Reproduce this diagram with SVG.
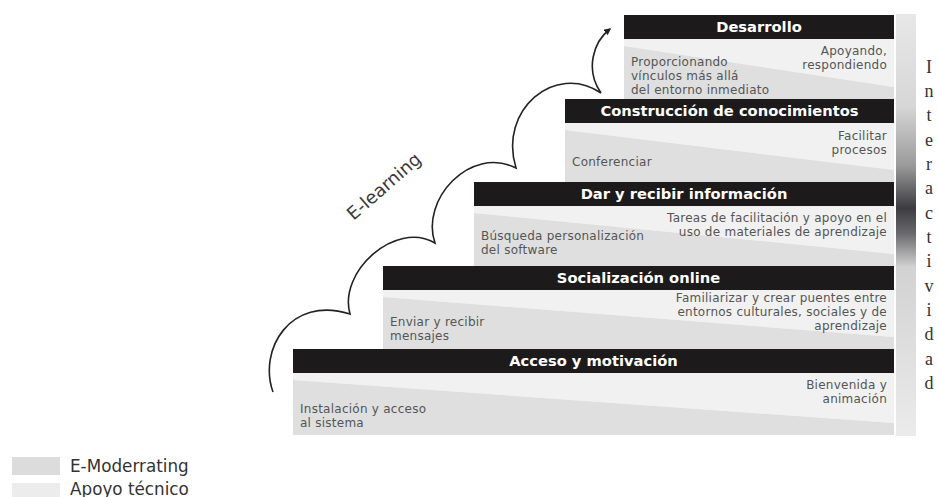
<svg xmlns="http://www.w3.org/2000/svg" width="938" height="497" viewBox="0 0 938 497">
<defs>
<style>
.bar{fill:#1c1a1b}
.bt{font-family:"DejaVu Sans",Verdana,sans-serif;font-weight:bold;font-size:14.7px;fill:#ffffff;text-anchor:middle}
.lt{fill:#f1f1f1}
.dk{fill:#dfdfdf}
.tx{font-family:"DejaVu Sans",Verdana,sans-serif;font-size:12px;letter-spacing:0.25px;fill:#555555}
.r{text-anchor:end}
.leg{font-family:"DejaVu Sans",Verdana,sans-serif;font-size:16.8px;fill:#333333}
.curve{fill:none;stroke:#222222;stroke-width:1.6}
</style>
<linearGradient id="gbar" x1="0" y1="0" x2="0" y2="1">
<stop offset="0" stop-color="#e8e8e8"/>
<stop offset="0.22" stop-color="#d6d6d6"/>
<stop offset="0.36" stop-color="#9a9a9a"/>
<stop offset="0.46" stop-color="#3c3b40"/>
<stop offset="0.52" stop-color="#6a6a6e"/>
<stop offset="0.6" stop-color="#d2d2d2"/>
<stop offset="1" stop-color="#ebebeb"/>
</linearGradient>
<marker id="arrow" viewBox="0 0 10 10" refX="8" refY="5" markerWidth="7" markerHeight="7" orient="auto" markerUnits="userSpaceOnUse">
<path d="M0,0 L10,5 L0,10 z" fill="#222222"/>
</marker>
</defs>
<rect x="0" y="0" width="938" height="497" fill="#ffffff"/>

<rect x="896" y="14" width="20" height="422" fill="url(#gbar)"/>

<g id="step1">
<polygon class="lt" points="293,373 894,373 894,423 293,380"/>
<polygon class="dk" points="293,380 894,423 894,435 293,435"/>
<rect class="bar" x="293" y="349" width="601" height="24"/>
<text class="bt" x="593.5" y="366">Acceso y motivación</text>
<text class="tx r" x="887" y="389">Bienvenida y</text>
<text class="tx r" x="887" y="403">animación</text>
<text class="tx" x="300" y="413">Instalación y acceso</text>
<text class="tx" x="300" y="427">al sistema</text>
</g>

<g id="step2">
<polygon class="lt" points="383,290 894,290 894,337 383,297"/>
<polygon class="dk" points="383,297 894,337 894,349 383,349"/>
<rect class="bar" x="383" y="266" width="511" height="24"/>
<text class="bt" x="638.5" y="283">Socialización online</text>
<text class="tx r" x="887" y="302">Familiarizar y crear puentes entre</text>
<text class="tx r" x="887" y="316">entornos culturales, sociales y de</text>
<text class="tx r" x="887" y="330">aprendizaje</text>
<text class="tx" x="390" y="326">Enviar y recibir</text>
<text class="tx" x="390" y="340">mensajes</text>
</g>

<g id="step3">
<polygon class="lt" points="474,206 894,206 894,254 474,213"/>
<polygon class="dk" points="474,213 894,254 894,266 474,266"/>
<rect class="bar" x="474" y="182" width="420" height="24"/>
<text class="bt" x="684" y="199">Dar y recibir información</text>
<text class="tx r" x="887" y="222">Tareas de facilitación y apoyo en el</text>
<text class="tx r" x="887" y="236">uso de materiales de aprendizaje</text>
<text class="tx" x="481" y="240">Búsqueda personalización</text>
<text class="tx" x="481" y="254">del software</text>
</g>

<g id="step4">
<polygon class="lt" points="565,123 894,123 894,170 565,130"/>
<polygon class="dk" points="565,130 894,170 894,182 565,182"/>
<rect class="bar" x="565" y="99" width="329" height="24"/>
<text class="bt" x="729.5" y="116">Construcción de conocimientos</text>
<text class="tx r" x="887" y="140">Facilitar</text>
<text class="tx r" x="887" y="154">procesos</text>
<text class="tx" x="572" y="166">Conferenciar</text>
</g>

<g id="step5">
<polygon class="lt" points="624,39 894,39 894,87 624,46"/>
<polygon class="dk" points="624,46 894,87 894,99 624,99"/>
<rect class="bar" x="624" y="15" width="270" height="24"/>
<text class="bt" x="759" y="32">Desarrollo</text>
<text class="tx r" x="887" y="55">Apoyando,</text>
<text class="tx r" x="887" y="69">respondiendo</text>
<text class="tx" x="631" y="66">Proporcionando</text>
<text class="tx" x="631" y="80">vínculos más allá</text>
<text class="tx" x="631" y="94">del entorno inmediato</text>
</g>

<g id="connectors">
<path class="curve" marker-end="url(#arrow)" d="M273,392 C258,350 290,295 350,314 C338,272 395,220 435,243 C420,200 470,145 516,168 C498,110 555,62 601,93 C585,70 593,42 610,29"/>
</g>

<text font-family="DejaVu Sans,Verdana,sans-serif" font-size="18" fill="#3a3a3a" text-anchor="middle" transform="translate(388,191) rotate(-41)">E-learning</text>

<g id="interactividad" font-family="Liberation Serif,serif" font-size="18" fill="#333333" text-anchor="middle">
<text x="929" y="73">I</text>
<text x="929" y="97">n</text>
<text x="929" y="121">t</text>
<text x="929" y="146">e</text>
<text x="929" y="170">r</text>
<text x="929" y="194">a</text>
<text x="929" y="219">c</text>
<text x="929" y="243">t</text>
<text x="929" y="267">i</text>
<text x="929" y="292">v</text>
<text x="929" y="316">i</text>
<text x="929" y="340">d</text>
<text x="929" y="365">a</text>
<text x="929" y="389">d</text>
</g>

<g id="legend">
<rect x="12" y="457" width="48" height="18" fill="#dcdcdc"/>
<text class="leg" x="70" y="472">E-Moderrating</text>
<rect x="12" y="483" width="48" height="16" fill="#ececec"/>
<text class="leg" x="70" y="495">Apoyo técnico</text>
</g>
</svg>
